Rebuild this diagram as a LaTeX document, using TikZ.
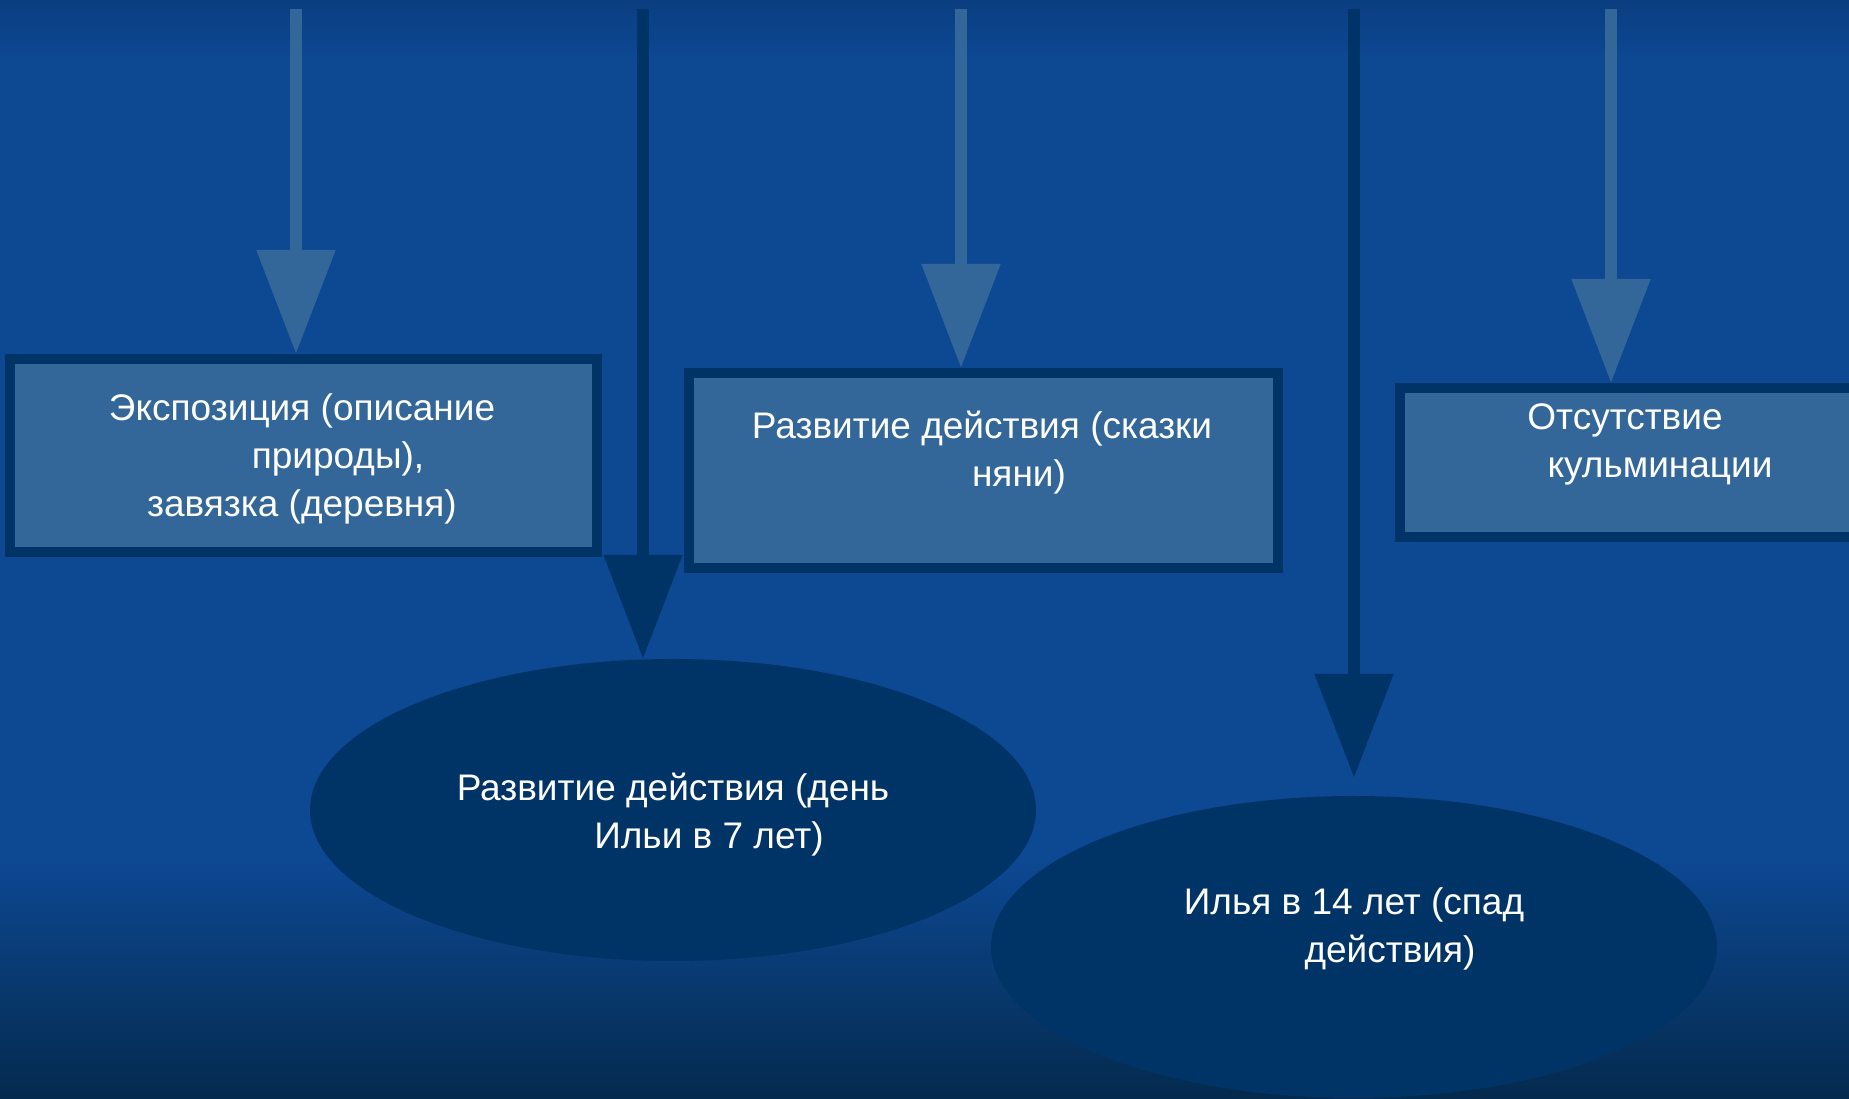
\documentclass[tikz,border=0pt]{standalone}
\usepackage{fontspec}
\setmainfont{Liberation Sans}
\usepackage{xcolor}
\usepackage{tikz}
\usetikzlibrary{arrows.meta,shapes.geometric,positioning,calc}

\definecolor{bgblue}{HTML}{0D4893}
\definecolor{bgtop}{HTML}{0A3E80}
\definecolor{bgdark}{HTML}{042A4D}
\definecolor{boxfill}{HTML}{336699}
\definecolor{navy}{HTML}{003366}

\begin{document}
\begin{tikzpicture}[
  x=1pt, y=1pt,
  stagebox/.style={draw=navy, fill=boxfill, line width=10pt, rectangle, inner sep=0pt},
  stageoval/.style={fill=navy, ellipse, inner sep=0pt, minimum width=726pt, minimum height=302pt},
  txt/.style={text=white, align=center, inner sep=0pt, font=\fontsize{37}{48}\selectfont},
  lightarrow/.style={draw=boxfill, line width=12pt, -{Triangle[width=76pt,length=104pt]}},
  darkarrow/.style={draw=navy, line width=12pt, -{Triangle[width=76pt,length=104pt]}}
]
\useasboundingbox (0,0) rectangle (1849,1099);
\clip (0,0) rectangle (1849,1099);
% background
\fill[bgblue] (0,0) rectangle (1849,1099);
\shade[top color=bgtop, bottom color=bgblue] (0,1040) rectangle (1849,1099);
\shade[top color=bgblue, bottom color=bgdark] (0,0) rectangle (1849,240);

% boxes
\node[stagebox, minimum width=587pt, minimum height=193pt] (b1) at (303.5,643.5) {};
\node[stagebox, minimum width=589pt, minimum height=195pt] (b2) at (983.5,628.5) {};
\node[stagebox, minimum width=460pt, minimum height=149pt] (b3) at (1630,636.5) {};
\node[txt] (b1t) at (302,640) {Экспозиция (описание\\\hspace*{72pt}природы),\\завязка (деревня)};
\node[txt] (b2t) at (982,646) {Развитие действия (сказки\\\hspace*{74pt}няни)};
\node[txt] (b3t) at (1625,655) {Отсутствие\\\hspace*{70pt}кульминации};

% ovals
\node[stageoval] (e1) at (673,289) {};
\node[stageoval] (e2) at (1354,152) {};
\node[txt] (e1t) at (673,284) {Развитие действия (день\\\hspace*{72pt}Ильи в 7 лет)};
\node[txt] (e2t) at (1354,170) {Илья в 14 лет (спад\\\hspace*{72pt}действия)};

% arrows from the top edge
\coordinate (t1) at (296,1090);
\coordinate (t2) at (643,1090);
\coordinate (t3) at (961,1090);
\coordinate (t4) at (1354,1090);
\coordinate (t5) at (1611,1090);
\draw[lightarrow] (t1) -- (t1 |- b1.north);
\draw[darkarrow] (t2) -- (t2 |- e1.north);
\draw[lightarrow] (t3) -- (t3 |- b2.north);
\draw[darkarrow, shorten >=18pt] (t4) -- (e2.north);
\draw[lightarrow] (t5) -- (t5 |- b3.north);
\end{tikzpicture}
\end{document}
